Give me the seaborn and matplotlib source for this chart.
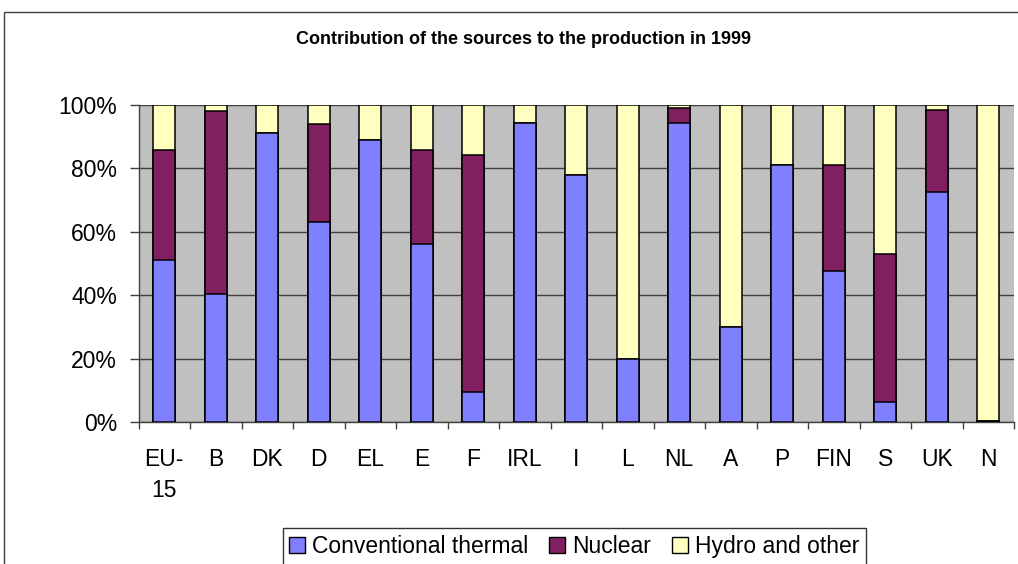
import numpy as np
import pandas as pd
import matplotlib
matplotlib.use("Agg")
import matplotlib.pyplot as plt
import seaborn as sns
from matplotlib.patches import Rectangle, Patch

countries = ["EU-\n15", "B", "DK", "D", "EL", "E", "F", "IRL", "I", "L",
             "NL", "A", "P", "FIN", "S", "UK", "N"]
thermal = [51.2, 40.5, 91.2, 63.1, 88.9, 56.0, 9.6, 94.4, 77.8, 19.8,
           94.4, 30.0, 81.0, 47.6, 6.3, 72.4, 0.4]
nuclear = [34.5, 57.5, 0.0, 31.0, 0.0, 29.7, 74.7, 0.0, 0.0, 0.0,
           4.6, 0.0, 0.0, 33.4, 46.7, 26.1, 0.0]
hydro = [14.3, 2.0, 8.8, 5.9, 11.1, 14.3, 15.7, 5.6, 22.2, 80.2,
         1.0, 70.0, 19.0, 19.0, 47.0, 1.5, 99.6]

series = ["Conventional thermal", "Nuclear", "Hydro and other"]
colors = ["#8080FF", "#802060", "#FFFFC0"]

df = pd.DataFrame({"country": countries, "thermal": thermal,
                   "nuclear": nuclear, "hydro": hydro})
df["lvl1"] = df["thermal"]
df["lvl2"] = df["thermal"] + df["nuclear"]
df["lvl3"] = df["lvl2"] + df["hydro"]

sns.set_style("white")
plt.rcParams["font.family"] = ["Liberation Sans", "DejaVu Sans"]
plt.rcParams["text.color"] = "black"
plt.rcParams["xtick.color"] = "black"
plt.rcParams["ytick.color"] = "black"

fig = plt.figure(figsize=(10.18, 5.64), dpi=100)
ax = fig.add_axes([138.5 / 1018, 1 - 422 / 564, (1014 - 138.5) / 1018, (422 - 105) / 564])
ax.set_facecolor("#C0C0C0")

# stacked bars: draw cumulative totals from the back to the front
for col, c in zip(["lvl3", "lvl2", "lvl1"], colors[::-1]):
    sns.barplot(data=df, x="country", y=col, color=c, width=0.42,
                edgecolor="black", linewidth=1.1, order=countries, ax=ax,
                saturation=1, zorder=3)

ax.set_xlim(-0.5, len(countries) - 0.5)
ax.set_ylim(0, 100)
ax.set_yticks([0, 20, 40, 60, 80, 100])
ax.set_yticklabels([f"{v}%" for v in range(0, 101, 20)])
ax.yaxis.grid(True, color="#404040", linewidth=1, zorder=1)
ax.set_axisbelow(True)
ax.set_xlabel("")
ax.set_ylabel("")

for s in ["top", "right"]:
    ax.spines[s].set_visible(False)
for s in ["left", "bottom"]:
    ax.spines[s].set_color("#404040")
    ax.spines[s].set_linewidth(1)

ax.set_xticks(np.arange(len(countries) + 1) - 0.5, minor=True)
ax.tick_params(axis="x", which="major", length=0, pad=19, labelsize=16.5,
               labelcolor="black")
ax.tick_params(axis="x", which="minor", length=5, width=1, color="#404040",
               direction="out", bottom=True)
ax.tick_params(axis="y", which="major", length=6.5, width=1, color="#404040",
               direction="out", left=True, pad=9, labelsize=16.5, labelcolor="black")
for lab in ax.get_xticklabels():
    lab.set_linespacing(1.45)

fig.text(0.514, 1 - 40 / 564, "Contribution of the sources to the production in 1999",
         ha="center", va="center", fontsize=13, fontweight="bold", color="black")

handles = [Patch(facecolor=c, edgecolor="black", linewidth=1) for c in colors]
leg = fig.legend(handles, series, loc="upper center", bbox_to_anchor=(0.564, 1 - 528 / 564),
                 ncol=3, fontsize=16.5, frameon=True, fancybox=False, handlelength=0.7,
                 handleheight=0.7, handletextpad=0.3, columnspacing=0.9, borderpad=0.3,
                 borderaxespad=0, labelcolor="black")
leg.get_frame().set_edgecolor("black")
leg.get_frame().set_linewidth(1)

fig.patches.append(Rectangle((4 / 1018, -0.1), 1.2, 1.1 - 12 / 564,
                             transform=fig.transFigure, fill=False,
                             edgecolor="#404040", linewidth=1))

fig.savefig("out.png", dpi=100)
